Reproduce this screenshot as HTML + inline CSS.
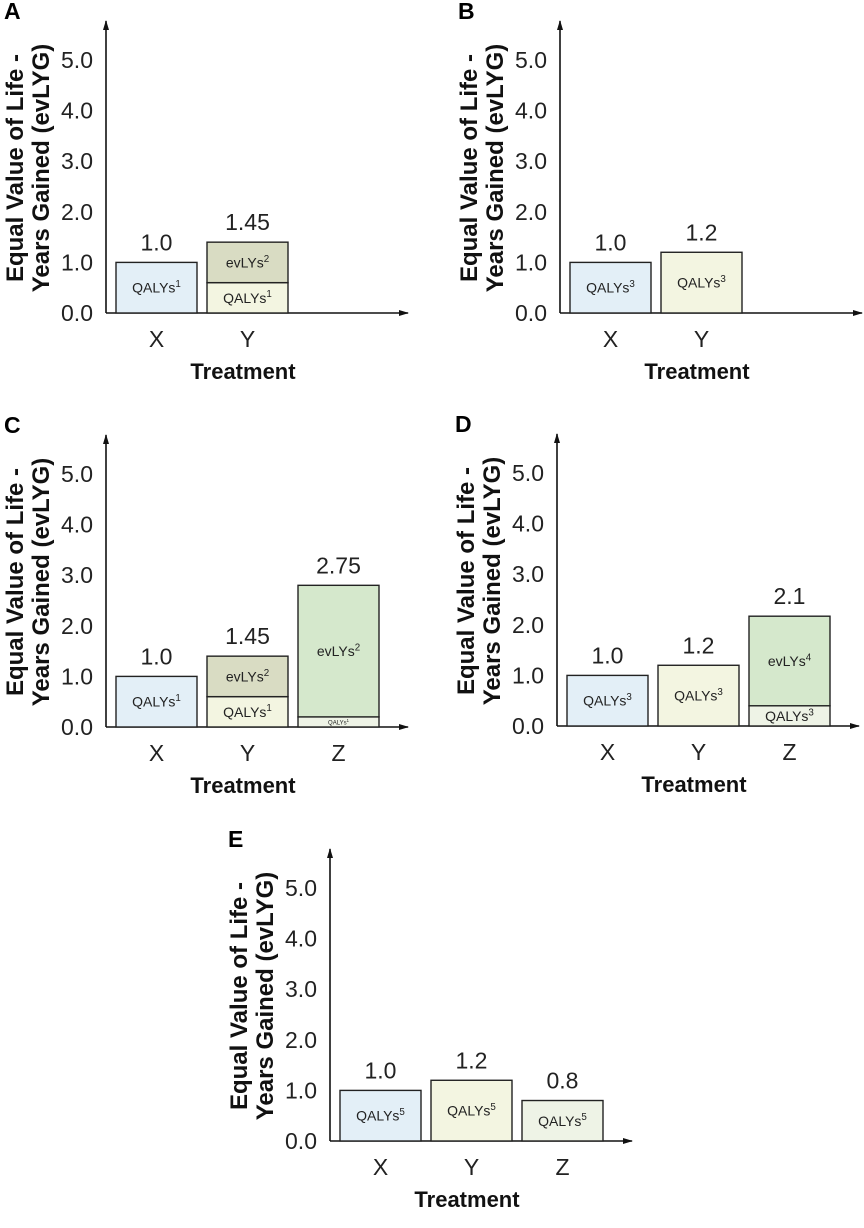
<!DOCTYPE html>
<html><head><meta charset="utf-8"><style>
html,body{margin:0;padding:0;background:#fff}
svg{display:block;font-family:"Liberation Sans",Arial,sans-serif}
</style></head><body>
<svg id="fig" width="864" height="1228" viewBox="0 0 864 1228" xmlns="http://www.w3.org/2000/svg">
<defs><marker id="arr" markerWidth="10" markerHeight="8" refX="9" refY="4" orient="auto" markerUnits="userSpaceOnUse"><path d="M0,1 L10,4 L0,7 Z" fill="#111"/></marker></defs>
</svg>
<script>
// Data per panel (values in evLYG)
const yTicks = [0, 1, 2, 3, 4, 5];
const yTickLabels = ["0.0","1.0","2.0","3.0","4.0","5.0"];
const panelLetters = ["A","B","C","D","E"];
const catsA = ["X","Y"];
const qalyA = [1.0, 0.6];
const evlyA = [0, 0.8];
const totalLabelsA = ["1.0","1.45"];
const qalySupA = ["1","1"];
const evlySupA = ["","2"];
const catsB = ["X","Y"];
const qalyB = [1.0, 1.2];
const evlyB = [0, 0];
const totalLabelsB = ["1.0","1.2"];
const qalySupB = ["3","3"];
const evlySupB = ["",""];
const catsC = ["X","Y","Z"];
const qalyC = [1.0, 0.6, 0.2];
const evlyC = [0, 0.8, 2.6];
const totalLabelsC = ["1.0","1.45","2.75"];
const qalySupC = ["1","1","1"];
const evlySupC = ["","2","2"];
const catsD = ["X","Y","Z"];
const qalyD = [1.0, 1.2, 0.4];
const evlyD = [0, 0, 1.77];
const totalLabelsD = ["1.0","1.2","2.1"];
const qalySupD = ["3","3","3"];
const evlySupD = ["","","4"];
const catsE = ["X","Y","Z"];
const qalyE = [1.0, 1.2, 0.8];
const evlyE = [0, 0, 0];
const totalLabelsE = ["1.0","1.2","0.8"];
const qalySupE = ["5","5","5"];
const evlySupE = ["","",""];

const NS = "http://www.w3.org/2000/svg";
const svg = document.getElementById("fig");
function mk(tag, attrs, parent, text){
  const e = document.createElementNS(NS, tag);
  for (const k in attrs) e.setAttribute(k, attrs[k]);
  if (text !== undefined) e.textContent = text;
  (parent||svg).appendChild(e);
  return e;
}
function supText(parent, x, y, size, base, sup){
  const t = mk("text", {x:x, y:y, "font-size": size, "text-anchor":"middle", fill:"#222"}, parent);
  
  
  mk("tspan", {}, t, base);
  mk("tspan", {dy: -size*0.4, "font-size": size*0.7}, t, sup);
  return t;
}
const UNIT = 50.6;
const qalyColors = {X:"#e3eff7", Y:"#f3f5e1", Z:"#eef3e6"};
const evlyColors = {Y:"#d9dcc3", Z:"#d5e8cc"};

function panel(ax, base, letter, cats, qaly, evly, totals, qsup, esup, key){
  const g = mk("g", {});
  
  
  const y = v => base - v * UNIT;
  const lt = mk("text", {x: ax-102, y: base-294, "font-size": 23, "font-weight": "bold"}, g, letter);
  
  
  const ya = mk("line", {x1: ax, y1: base, x2: ax, y2: base-292, stroke:"#111", "stroke-width":1.6, "marker-end":"url(#arr)"}, g);
  
  
  const xa = mk("line", {x1: ax, y1: base, x2: ax+302, y2: base, stroke:"#111", "stroke-width":1.6, "marker-end":"url(#arr)"}, g);
  
  
  yTicks.forEach((t,i)=>{
    const tl = mk("text", {x: ax-13, y: y(t)+8, "font-size": 23, "text-anchor":"end", fill:"#222"}, g, yTickLabels[i]);
    
    
  });
  const yt = mk("text", {transform:`translate(${ax-83},${base-145}) rotate(-90)`, "font-size": 24, "font-weight":"bold", "text-anchor":"middle", fill:"#111"}, g);
  
  
  mk("tspan", {x:0, dy:0}, yt, "Equal Value of Life -");
  mk("tspan", {x:0, dy:26}, yt, "Years Gained (evLYG)");
  cats.forEach((c,i)=>{
    const x0 = ax + 10 + i*91, w = 81, cx = x0 + w/2;
    const q = qaly[i], e = evly[i];
    const r1 = mk("rect", {x:x0, y:y(q), width:w, height:q*UNIT, fill:qalyColors[c], stroke:"#222", "stroke-width":1.4}, g);
    
    
    const small = q*UNIT < 15;
    supText(g, cx, y(q/2)+(small?2.5:5), small?6:14, "QALYs", qsup[i]);
    if (e > 0){
      const r2 = mk("rect", {x:x0, y:y(q+e), width:w, height:e*UNIT, fill:evlyColors[c], stroke:"#222", "stroke-width":1.4}, g);
      
      
      supText(g, cx, y(q+e/2)+5, 14, "evLYs", esup[i]);
    }
    const vl = mk("text", {x:cx, y:y(q+e)-12, "font-size": 23, "text-anchor":"middle", fill:"#222"}, g, totals[i]);
    
    
    const cl = mk("text", {x:cx, y:base+34, "font-size": 23, "text-anchor":"middle", fill:"#222"}, g, c);
    
    
  });
  const xt = mk("text", {x: ax+137, y: base+66, "font-size": 22, "font-weight":"bold", "text-anchor":"middle", fill:"#111"}, g, "Treatment");
  
  
}
panel(106, 313, panelLetters[0], catsA, qalyA, evlyA, totalLabelsA, qalySupA, evlySupA, "a");
panel(560, 313, panelLetters[1], catsB, qalyB, evlyB, totalLabelsB, qalySupB, evlySupB, "b");
panel(106, 727, panelLetters[2], catsC, qalyC, evlyC, totalLabelsC, qalySupC, evlySupC, "c");
panel(557, 726, panelLetters[3], catsD, qalyD, evlyD, totalLabelsD, qalySupD, evlySupD, "d");
panel(330, 1141, panelLetters[4], catsE, qalyE, evlyE, totalLabelsE, qalySupE, evlySupE, "e");
</script>
</body></html>
